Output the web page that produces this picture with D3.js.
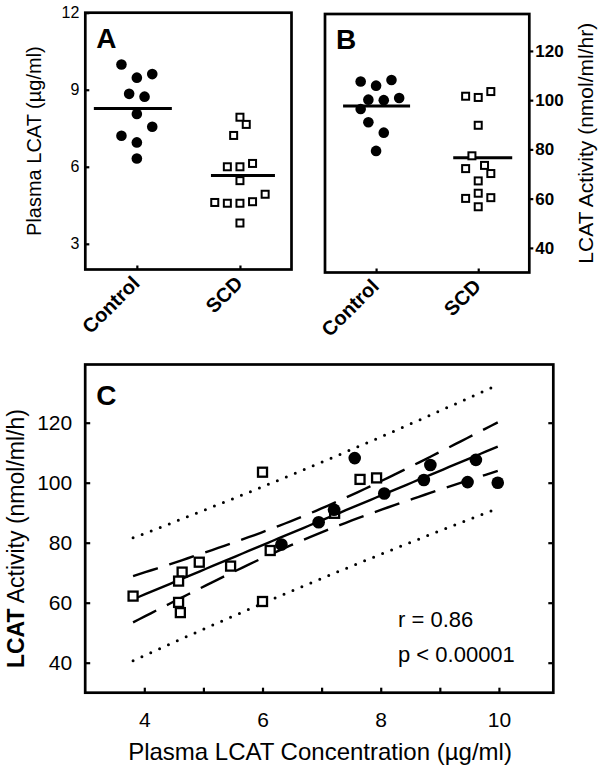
<!DOCTYPE html>
<html><head><meta charset="utf-8">
<script src="https://cdn.jsdelivr.net/npm/d3@7"></script>
<style>
body{margin:0;background:#fff}
svg{display:block}
text{font-family:"Liberation Sans",Arial,Helvetica,sans-serif;fill:#000}
</style>
</head><body>
<svg id="chart" width="602" height="773"></svg>
<script>
// ---------------- data ----------------
const categories = ["Control", "SCD"];
// paired values per subject (plasma LCAT concentration in µg/ml, LCAT activity in nmol/ml/h)
const controlConc = [9.98, 9.61, 9.47, 8.84, 8.73, 8.06, 7.56, 7.21, 6.95, 6.32];
const controlAct  = [100.0, 107.6, 100.2, 105.9, 100.9, 96.4, 108.2, 91.0, 86.8, 79.4];
const scdConc = [7.93, 7.65, 7.22, 6.00, 6.00, 6.13, 5.46, 4.64, 4.58, 4.58, 4.61, 4.93, 3.81];
const scdAct  = [101.6, 101.1, 89.8, 103.5, 60.4, 77.4, 72.2, 70.2, 67.2, 60.1, 56.7, 73.5, 62.2];
// scatter-dot jitter slots (column spreading of overlapping points)
const jitterAControl = [-2, 2, 0, -1, 1, 0, 2, -2, 0, 0];
const jitterASCD     = [0, 1, -1, -2, 0, 2, 0, 2, -2, 0, -4, 4, 0];
const jitterBControl = [1, -2, -1, 0, 3, -2, 2, -1, 1, 0];
const jitterBSCD     = [-2, 0, 0, 2, 2, -1, -2, 2, 0, -2, 0, 1, 0];
// ticks
const ticksA  = [3, 6, 9, 12];
const ticksB  = [40, 60, 80, 100, 120];
const ticksCy = [40, 60, 80, 100, 120];
const ticksCx = [4, 5, 6, 7, 8, 9, 10];
const labelsCx = [4, 6, 8, 10];
const statsText = ["r = 0.86", "p < 0.00001"];
const tCrit = 2.0796; // t(0.975, df = 21)

// ---------------- drawing ----------------
const svg = d3.select("#chart");
const FRAME_W = 2.7;

function dotPanel(o) {
  const g = svg.append("g");
  const x = d3.scalePoint().domain(categories).range([o.l, o.r]).padding(0.5);
  const y = d3.scaleLinear().domain(o.yDomain).range([o.b, o.t]);

  let yAxis;
  if (o.side === "left") {
    yAxis = d3.axisLeft(y).tickValues(o.yTicks).tickSize(-4).tickPadding(6).tickFormat(d3.format("d"));
  } else {
    yAxis = d3.axisRight(y).tickValues(o.yTicks).tickSize(4).tickPadding(2).tickFormat(d3.format("d"));
  }
  const ya = g.append("g").attr("transform", `translate(${o.side === "left" ? o.l : o.r},0)`).call(yAxis);
  ya.select(".domain").remove();
  ya.selectAll("line").attr("stroke", "#000").attr("stroke-width", 2.2);
  ya.selectAll("text").attr("font-size", o.tickFont).attr("font-weight", o.tickWeight)
    .attr("font-family", '"Liberation Sans",Arial,sans-serif').attr("fill", "#000");

  const xa = g.append("g").attr("transform", `translate(0,${o.b})`)
    .call(d3.axisBottom(x).tickSize(-4).tickFormat(""));
  xa.select(".domain").remove();
  xa.selectAll("line").attr("stroke", "#000").attr("stroke-width", 2.2);
  g.selectAll(".catlab").data(categories).join("text")
    .attr("class", "catlab")
    .attr("transform", d => `translate(${x(d) + 4},${o.b + 15}) rotate(-45)`)
    .attr("text-anchor", "end")
    .attr("font-size", 20).attr("font-weight", "bold")
    .text(d => d);

  g.append("rect").attr("x", o.l).attr("y", o.t).attr("width", o.r - o.l).attr("height", o.b - o.t)
    .attr("fill", "none").attr("stroke", "#000").attr("stroke-width", FRAME_W);

  const means = [d3.mean(o.control), d3.mean(o.scd)];
  categories.forEach((c, i) => {
    g.append("line")
      .attr("x1", x(c) + o.meanExt[i][0]).attr("x2", x(c) + o.meanExt[i][1])
      .attr("y1", y(means[i])).attr("y2", y(means[i]))
      .attr("stroke", "#000").attr("stroke-width", 3);
  });

  g.selectAll(".ctl").data(o.control).join("circle")
    .attr("cx", (d, i) => x("Control") + o.jc[i] * 7.7)
    .attr("cy", d => y(d)).attr("r", 5.3).attr("fill", "#000");
  const s = 7;
  g.selectAll(".scd").data(o.scd).join("rect")
    .attr("x", (d, i) => x("SCD") + o.js[i] * 6.3 - s / 2)
    .attr("y", d => y(d) - s / 2).attr("width", s).attr("height", s)
    .attr("fill", "#fff").attr("stroke", "#000").attr("stroke-width", 2);

  g.append("text").attr("x", o.l + 11).attr("y", o.t + 35)
    .attr("font-size", 28).attr("font-weight", "bold").text(o.letter);

  g.append("text")
    .attr("transform", `translate(${o.titleX},${(o.t + o.b) / 2}) rotate(-90)`)
    .attr("text-anchor", "middle").attr("font-size", o.titleFont).text(o.title);
}

dotPanel({
  l: 85.3, r: 291.5, t: 12.7, b: 269.5, yDomain: [2, 12], yTicks: ticksA, side: "left",
  tickFont: 16, tickWeight: "normal",
  control: controlConc, scd: scdConc, jc: jitterAControl, js: jitterASCD,
  meanExt: [[-43, 35], [-29, 35]], letter: "A",
  title: "Plasma LCAT (µg/ml)", titleX: 41, titleFont: 20
});
dotPanel({
  l: 325, r: 529.3, t: 14, b: 272.5, yDomain: [30, 135], yTicks: ticksB, side: "right",
  tickFont: 17, tickWeight: "bold",
  control: controlAct, scd: scdAct, jc: jitterBControl, js: jitterBSCD,
  meanExt: [[-33, 34], [-25, 34]], letter: "B",
  title: "LCAT Activity (nmol/ml/hr)", titleX: 593, titleFont: 21
});

// ---------------- panel C ----------------
(function () {
  const L = 85.2, R = 553.3, T = 364.5, B = 692.7;
  const g = svg.append("g");
  const x = d3.scaleLinear().domain([3, 10.92]).range([L, R]);
  const y = d3.scaleLinear().domain([30, 139.4]).range([B, T]);

  const yl = g.append("g").attr("transform", `translate(${L},0)`)
    .call(d3.axisLeft(y).tickValues(ticksCy).tickSize(-5).tickPadding(13));
  const yr = g.append("g").attr("transform", `translate(${R},0)`)
    .call(d3.axisRight(y).tickValues(ticksCy).tickSize(-5).tickFormat(""));
  const xb = g.append("g").attr("transform", `translate(0,${B})`)
    .call(d3.axisBottom(x).tickValues(ticksCx).tickSize(-5).tickPadding(19)
      .tickFormat(d => labelsCx.includes(d) ? d : ""));
  [yl, yr, xb].forEach(a => {
    a.select(".domain").remove();
    a.selectAll("line").attr("stroke", "#000").attr("stroke-width", 2.2);
    a.selectAll("text").attr("font-size", 21).attr("fill", "#000")
      .attr("font-family", '"Liberation Sans",Arial,sans-serif');
  });

  // regression statistics from the data
  const pts = controlConc.map((v, i) => [v, controlAct[i]])
    .concat(scdConc.map((v, i) => [v, scdAct[i]]));
  const n = pts.length;
  const mx = d3.mean(pts, d => d[0]), my = d3.mean(pts, d => d[1]);
  const sxx = d3.sum(pts, d => (d[0] - mx) ** 2);
  const sxy = d3.sum(pts, d => (d[0] - mx) * (d[1] - my));
  const slope = sxy / sxx, icpt = my - slope * mx;
  const sse = d3.sum(pts, d => (d[1] - (icpt + slope * d[0])) ** 2);
  const se = Math.sqrt(sse / (n - 2));
  const x0 = d3.min(pts, d => d[0]), x1 = d3.max(pts, d => d[0]);
  const xs = d3.range(0, 61).map(k => x0 + (x1 - x0) * k / 60);
  const band = (k, extra) => xs.map(v => {
    const h = tCrit * se * Math.sqrt(extra + 1 / n + (v - mx) ** 2 / sxx);
    return [v, icpt + slope * v + k * h];
  });
  const line = d3.line().x(d => x(d[0])).y(d => y(d[1]));

  g.append("path").attr("d", line(xs.map(v => [v, icpt + slope * v])))
    .attr("fill", "none").attr("stroke", "#000").attr("stroke-width", 2.4);
  [1, -1].forEach(k => {
    g.append("path").attr("d", line(band(k, 0)))
      .attr("fill", "none").attr("stroke", "#000").attr("stroke-width", 2.4)
      .attr("stroke-dasharray", "26,12");
    g.append("path").attr("d", line(band(k, 1)))
      .attr("fill", "none").attr("stroke", "#000").attr("stroke-width", 3)
      .attr("stroke-linecap", "round").attr("stroke-dasharray", "0,9.7");
  });

  const s = 9;
  g.selectAll(".scdC").data(scdConc).join("rect")
    .attr("x", (d) => x(d) - s / 2).attr("y", (d, i) => y(scdAct[i]) - s / 2)
    .attr("width", s).attr("height", s)
    .attr("fill", "#fff").attr("stroke", "#000").attr("stroke-width", 2.3);
  g.selectAll(".ctlC").data(controlConc).join("circle")
    .attr("cx", d => x(d)).attr("cy", (d, i) => y(controlAct[i])).attr("r", 6.3).attr("fill", "#000");

  g.append("rect").attr("x", L).attr("y", T).attr("width", R - L).attr("height", B - T)
    .attr("fill", "none").attr("stroke", "#000").attr("stroke-width", FRAME_W);

  g.append("text").attr("x", L + 11).attr("y", T + 40)
    .attr("font-size", 28).attr("font-weight", "bold").text("C");

  g.selectAll(".stat").data(statsText).join("text")
    .attr("x", 398).attr("y", (d, i) => 627 + i * 35).attr("font-size", 22).text(d => d);

  const yt = g.append("text").attr("transform", `translate(24,${(T + B) / 2 + 10}) rotate(-90)`)
    .attr("text-anchor", "middle").attr("font-size", 23);
  yt.append("tspan").attr("font-weight", "bold").text("LCAT");
  yt.append("tspan").text(" Activity (nmol/ml/h)");
  g.append("text").attr("x", 320).attr("y", 760).attr("text-anchor", "middle")
    .attr("font-size", 24).text("Plasma LCAT Concentration (µg/ml)");
})();
</script>
</body></html>
